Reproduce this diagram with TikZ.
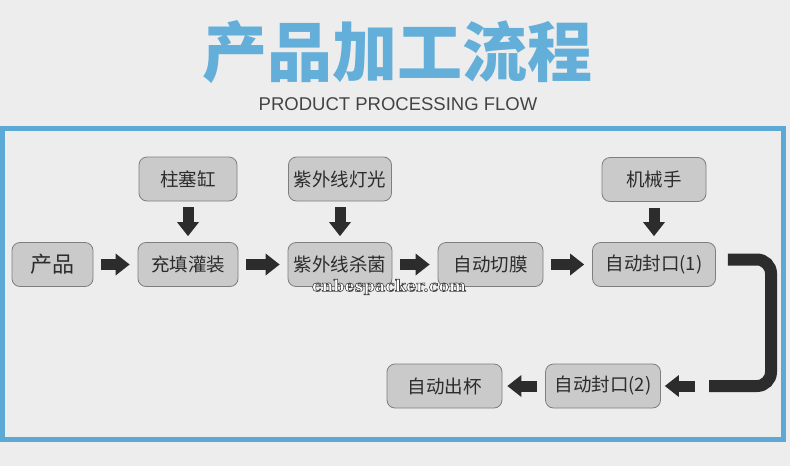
\documentclass[tikz,border=0pt]{standalone}
\usepackage{fontspec}
\usetikzlibrary{arrows.meta}
\newfontfamily\cjk{Noto Sans CJK SC}
\newfontfamily\latinsans{Liberation Sans}
\newfontfamily\latinserif{DejaVu Serif}
\definecolor{bggray}{HTML}{EDEDED}
\definecolor{frameblue}{HTML}{5CA9D6}
\definecolor{titleblue}{HTML}{63AFD9}
\definecolor{boxfill}{HTML}{CACACA}
\definecolor{boxline}{HTML}{7E7E7E}
\definecolor{inkgray}{HTML}{2C2C2C}
\definecolor{subgray}{HTML}{444444}
\newcommand\outlinetext[1]{\textcolor{white}{\special{pdf:literal direct 2 Tr 0.6 w 0.25 G}#1\special{pdf:literal direct 0 Tr}}}

\begin{document}
\begin{tikzpicture}[x=1pt,y=-1pt,
  stage/.style={draw=boxline,fill=boxfill,line width=0.8pt,rounded corners=8pt,minimum height=44pt,inner sep=0pt,text=inkgray,font=\cjk\fontsize{18.5}{20}\selectfont},
  blk/.style={draw=inkgray,line width=11pt,-{Triangle[width=22pt,length=14pt,line width=0pt]},shorten <=8pt,shorten >=8pt},
  blkdown/.style={blk,shorten <=6pt,shorten >=6pt},
  bar/.style={draw=inkgray,line width=12pt,rounded corners=14pt}]
\fill[bggray] (0,0) rectangle (790,466);
\useasboundingbox (0,0) rectangle (790,466);
\draw[frameblue,line width=5pt] (2.5,128) rectangle (783.5,439.5);

\node[text=titleblue,font=\cjk\bfseries\fontsize{65}{70}\selectfont] (title) at (397.5,52) {产品加工流程};
\node[text=subgray,font=\latinsans\fontsize{18.5}{22}\selectfont] (subtitle) at (398,104) {PRODUCT PROCESSING FLOW};

\node[stage,minimum width=81pt,font=\cjk\fontsize{22}{24}\selectfont] (product) at (52.5,264.5) {产品};
\node[stage,minimum width=98pt] (piston) at (188,179) {柱塞缸};
\node[stage,minimum width=100pt] (filling) at (188,264.5) {充填灌装};
\node[stage,minimum width=103pt] (uvlamp) at (340,179) {紫外线灯光};
\node[stage,minimum width=104pt] (uvkill) at (340,264.5) {紫外线杀菌};
\node[stage,minimum width=105pt] (cutfilm) at (490.5,264.5) {自动切膜};
\node[stage,minimum width=104pt] (robot) at (654,179.5) {机械手};
\node[stage,minimum width=123pt] (sealone) at (654,264.5) {自动封口(1)};
\node[stage,minimum width=115pt] (sealtwo) at (603,386) {自动封口(2)};
\node[stage,minimum width=115pt] (cupout) at (444.5,386) {自动出杯};

\draw[blk] (product) -- (filling);
\draw[blk] (filling) -- (uvkill);
\draw[blk] (uvkill) -- (cutfilm);
\draw[blk] (cutfilm) -- (sealone);
\draw[blkdown] (piston) -- (filling);
\draw[blkdown] (uvlamp) -- (uvkill);
\draw[blkdown] (robot) -- (sealone);

\coordinate (corner) at (771,386);
\coordinate (barend) at (709,386);
\draw[bar] ([xshift=12pt,yshift=5pt]sealone.east) -| (corner) -- (barend);
\draw[blk,shorten <=14pt,shorten >=4pt] (barend) -- (sealtwo);
\draw[blk,shorten >=5pt] (sealtwo) -- (cupout);

\node[font=\latinserif\bfseries\fontsize{16}{18}\selectfont] (mark) at (389,287) {\outlinetext{cnbespacker.com}};
\end{tikzpicture}
\end{document}
